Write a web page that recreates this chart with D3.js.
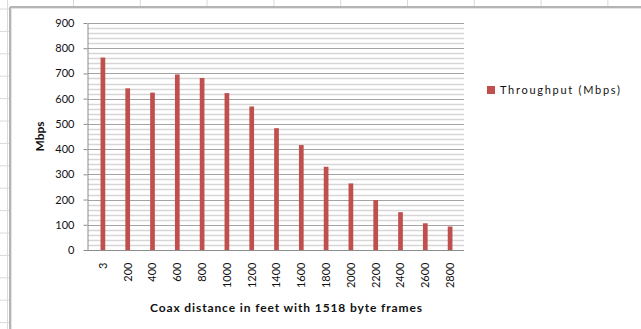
<!DOCTYPE html>
<html><head><meta charset="utf-8">
<script src="https://cdn.jsdelivr.net/npm/d3@7"></script>
<style>html,body{margin:0;padding:0;background:#fff;overflow:hidden}</style>
</head><body>
<svg id="c" width="641" height="329"></svg>
<script>
const categories = ["3","200","400","600","800","1000","1200","1400","1600","1800","2000","2200","2400","2600","2800"];
const throughput = [763, 641, 624, 696, 682, 622, 569, 483, 416, 330, 264, 198, 150, 106, 93];
const yTicks = [0,100,200,300,400,500,600,700,800,900];
const seriesName = "Throughput (Mbps)";
const yTitle = "Mbps";
const xTitle = "Coax distance in feet with 1518 byte frames";

const svg = d3.select("#c");
const font = "Lato, 'Open Sans', sans-serif";

// spreadsheet background grid
const bg = svg.append("g");
d3.range(0, 15).forEach(i => {
  const y = 9 + i * 22.4;
  bg.append("line").attr("x1",0).attr("x2",10).attr("y1",y).attr("y2",y).attr("stroke","#dadada");
});
bg.append("line").attr("x1",7.5).attr("x2",7.5).attr("y1",0).attr("y2",329).attr("stroke","#dadada");
d3.range(0, 9).forEach(i => {
  const x = 73.5 + i * 66.8;
  bg.append("line").attr("x1",x).attr("x2",x).attr("y1",0).attr("y2",7).attr("stroke","#dadada");
});
// chart frame with shadow
svg.append("rect").attr("x",11).attr("y",8).attr("width",640).attr("height",330).attr("fill","#fff");
svg.append("line").attr("x1",10).attr("x2",641).attr("y1",7).attr("y2",7).attr("stroke","#b4b4b4").attr("stroke-width",2);
svg.append("line").attr("x1",10).attr("x2",10).attr("y1",7).attr("y2",329).attr("stroke","#b4b4b4").attr("stroke-width",2);
svg.append("line").attr("x1",11).attr("x2",641).attr("y1",8.5).attr("y2",8.5).attr("stroke","#e4e4e4");
svg.append("line").attr("x1",11.5).attr("x2",11.5).attr("y1",8).attr("y2",329).attr("stroke","#e4e4e4");

const plotL = 88, plotR = 464, plotT = 23, plotB = 250;
const x = d3.scaleBand().domain(categories).range([90.5, 462.5]).paddingInner(0.81).paddingOuter(0.405);
const y = d3.scaleLinear().domain([0, 900]).range([plotB, plotT]);

// minor gridlines every 20
const minor = d3.range(0, 901, 20).filter(v => v % 100 !== 0);
svg.append("g").selectAll("line").data(minor).join("line")
  .attr("x1", plotL).attr("x2", plotR)
  .attr("y1", d => Math.round(y(d)) + 0.5).attr("y2", d => Math.round(y(d)) + 0.5)
  .attr("stroke", "#d6d6d6").attr("stroke-width", 1.6);
// major gridlines
svg.append("g").selectAll("line").data(yTicks.filter(v => v > 0)).join("line")
  .attr("x1", plotL).attr("x2", plotR)
  .attr("y1", d => Math.round(y(d)) + 0.5).attr("y2", d => Math.round(y(d)) + 0.5)
  .attr("stroke", "#a3a3a3").attr("stroke-width", 1);

// y axis
const yAxis = d3.axisLeft(y).tickValues(yTicks).tickSize(4).tickPadding(9).tickSizeOuter(0);
const gy = svg.append("g").attr("transform", `translate(${plotL - 0.5},0)`).call(yAxis);
gy.select(".domain").attr("stroke", "#8c8c8c");
gy.selectAll(".tick line").attr("stroke", "#8c8c8c");
gy.selectAll(".tick text").attr("font-family", font).attr("font-size", 11).attr("fill", "#111");

// bars
svg.append("g").selectAll("rect").data(throughput).join("rect")
  .attr("x", (d, i) => x(categories[i]))
  .attr("width", x.bandwidth())
  .attr("y", d => y(d))
  .attr("height", d => plotB - y(d))
  .attr("fill", "#c0504d");

// x axis
const xAxis = d3.axisBottom(x).tickSize(0).tickPadding(0);
const gx = svg.append("g").attr("transform", `translate(0,${plotB + 0.5})`).call(xAxis);
gx.select(".domain").attr("stroke", "#8c8c8c").attr("d", `M${plotL - 4},0H${plotR}`);
gx.selectAll(".tick text")
  .attr("font-family", font).attr("font-size", 11).attr("fill", "#111")
  .attr("text-anchor", "end").attr("dy", "0.35em")
  .attr("transform", "translate(0,12) rotate(-90)").attr("x", 0).attr("y", 0);

// titles
svg.append("text").attr("transform", `translate(44,${(plotT + plotB) / 2}) rotate(-90)`)
  .attr("text-anchor", "middle").attr("font-family", font).attr("font-weight", "bold")
  .attr("font-size", 12).attr("fill", "#111").text(yTitle);
svg.append("text").attr("x", 150).attr("y", 312)
  .attr("font-family", font).attr("font-weight", "bold")
  .attr("font-size", 12).attr("fill", "#111")
  .attr("textLength", 272).attr("lengthAdjust", "spacing").text(xTitle);

// legend
const lg = svg.append("g").attr("transform", "translate(487,86)");
lg.append("rect").attr("width", 8).attr("height", 8).attr("fill", "#c0504d");
lg.append("text").attr("x", 13).attr("y", 4).attr("dy", "0.35em")
  .attr("font-family", font).attr("font-size", 11).attr("fill", "#111")
  .attr("textLength", 120).attr("lengthAdjust", "spacing").text(seriesName);
</script>
</body></html>
